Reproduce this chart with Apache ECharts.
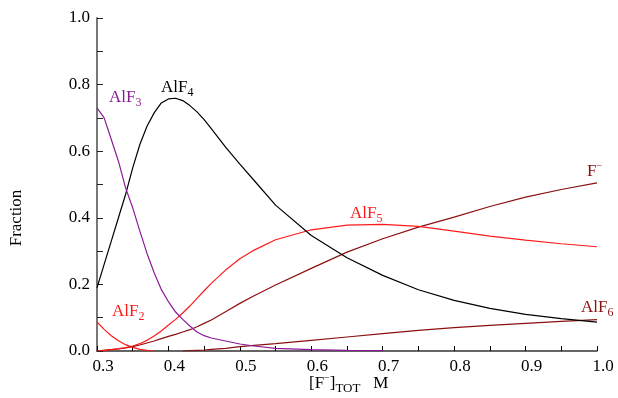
<!DOCTYPE html>
<html>
<head>
<meta charset="utf-8">
<script src="https://cdn.jsdelivr.net/npm/echarts@6/dist/echarts.min.js"></script>
<style>
html,body{margin:0;padding:0;background:#fff;}
#chart{width:618px;height:398px;}
</style>
</head>
<body>
<div id="chart"></div>
<script>
// Total fluoride concentration (M)
var xs = [0.30,0.31,0.32,0.33,0.34,0.35,0.36,0.37,0.38,0.39,0.40,0.41,0.42,0.43,0.44,0.45,0.46,0.48,0.50,0.52,0.55,0.60,0.65,0.70,0.75,0.80,0.85,0.90,0.95,1.00];
var alf2 = [0.087,0.065,0.046,0.031,0.019,0.011,0.005,0.002,0.0,null,null,null,null,null,null,null,null,null,null,null,null,null,null,null,null,null,null,null,null,null];
var alf3 = [0.73,0.70,0.635,0.57,0.49,0.43,0.36,0.293,0.235,0.185,0.148,0.117,0.095,0.075,0.057,0.046,0.039,0.030,0.021,0.015,0.008,0.004,0.002,0.001,null,null,null,null,null,null];
var alf4 = [0.19,0.26,0.33,0.40,0.47,0.55,0.62,0.675,0.715,0.745,0.757,0.759,0.752,0.737,0.718,0.695,0.668,0.612,0.561,0.512,0.438,0.347,0.28,0.227,0.184,0.152,0.128,0.11,0.097,0.087];
var alf5 = [0.0,0.002,0.004,0.007,0.010,0.015,0.022,0.032,0.045,0.060,0.078,0.095,0.114,0.135,0.158,0.181,0.203,0.243,0.277,0.303,0.334,0.364,0.378,0.38,0.374,0.36,0.345,0.333,0.322,0.313];
var fMinus = [0.0,0.002,0.004,0.006,0.009,0.013,0.018,0.024,0.030,0.037,0.044,0.050,0.057,0.064,0.073,0.083,0.093,0.118,0.143,0.166,0.198,0.248,0.297,0.337,0.372,0.402,0.434,0.462,0.485,0.505];
var alf6 = [null,null,null,null,null,null,null,null,null,null,null,null,0.0,0.001,0.002,0.003,0.005,0.008,0.013,0.017,0.022,0.032,0.042,0.052,0.062,0.070,0.077,0.083,0.089,0.094];

var xTicks = [0.3,0.4,0.5,0.6,0.7,0.8,0.9,1.0];
var yTicks = [0.0,0.2,0.4,0.6,0.8,1.0];

function pairs(ys){ return xs.map(function(x,i){ return [x, ys[i]]; }); }

var FONT = '"Liberation Serif", "DejaVu Serif", serif';
var colPurple = '#8b1a96', colRed = '#ff1a1a', colDark = '#8b1010', colBlack = '#000';

function lineSeries(name, ys, color){
  return {name:name, type:'line', data:pairs(ys), showSymbol:false, symbol:'none', smooth:false,
    connectNulls:false, lineStyle:{color:color, width:1.2}, itemStyle:{color:color}, z:3};
}

function txt(x, y, main, sub, color){
  return {type:'text', x:x, y:y, z:10, style:{
    text:'{m|' + main + '}{s|' + sub + '}', textVerticalAlign:'middle', verticalAlign:'middle',
    rich:{ m:{fontFamily:FONT, fontSize:17, lineHeight:22, fill:color, color:color},
           s:{fontFamily:FONT, fontSize:12, lineHeight:11, verticalAlign:'bottom', fill:color, color:color} } }};
}

var chart = echarts.init(document.getElementById('chart'), null, {renderer:'canvas'});
chart.setOption({
  animation:false,
  backgroundColor:'#fff',
  grid:{left:97, right:21, top:18, bottom:47, containLabel:false},
  xAxis:{type:'value', min:0.3, max:1.0, interval:0.05,
    axisLine:{show:true, onZero:false, lineStyle:{color:'#333', width:1.5}},
    axisTick:{show:true, inside:true, length:5, lineStyle:{color:'#000', width:1}},
    splitLine:{show:false},
    axisLabel:{fontFamily:FONT, fontSize:17, color:'#000', margin:7, padding:[0,0,0,12],
      formatter:function(v){ var r = Math.round(v*100)/100; for (var i=0;i<xTicks.length;i++){ if (Math.abs(xTicks[i]-r)<1e-6) return xTicks[i].toFixed(1);} return ''; }}
  },
  yAxis:{type:'value', min:0, max:1.0, interval:0.1,
    axisLine:{show:true, onZero:false, lineStyle:{color:'#777', width:2}},
    axisTick:{show:true, inside:true, length:6, lineStyle:{color:'#222', width:1}},
    splitLine:{show:false},
    axisLabel:{fontFamily:FONT, fontSize:17, color:'#000', margin:7,
      formatter:function(v){ var r = Math.round(v*100)/100; for (var i=0;i<yTicks.length;i++){ if (Math.abs(yTicks[i]-r)<1e-6) return yTicks[i].toFixed(1);} return ''; }}
  },
  series:[
    lineSeries('AlF2', alf2, colRed),
    lineSeries('AlF6', alf6, colDark),
    lineSeries('F-', fMinus, colDark),
    lineSeries('AlF5', alf5, colRed),
    lineSeries('AlF4', alf4, colBlack),
    lineSeries('AlF3', alf3, colPurple)
  ],
  graphic:[
    txt(109, 98, 'AlF', '3', colPurple),
    txt(161, 88, 'AlF', '4', colBlack),
    txt(350, 214, 'AlF', '5', colRed),
    txt(112, 312, 'AlF', '2', colRed),
    txt(581, 308, 'AlF', '6', colDark),
    {type:'text', x:587, y:172, z:10, style:{
      text:'{m|F}{p|−}', textVerticalAlign:'middle', verticalAlign:'middle',
      rich:{ m:{fontFamily:FONT, fontSize:17, lineHeight:22, fill:colDark, color:colDark},
             p:{fontFamily:FONT, fontSize:10, lineHeight:10, verticalAlign:'top', fill:colDark, color:colDark} } }},
    {type:'text', x:17, y:218, rotation:Math.PI/2, z:10, style:{
      text:'Fraction', fontFamily:FONT, fontSize:17, fill:'#000', align:'center', verticalAlign:'middle', textAlign:'center', textVerticalAlign:'middle'}},
    {type:'text', x:309, y:384, z:10, style:{
      text:'{m|[F}{p|−}{m|]}{s|TOT}{m|   M}', textVerticalAlign:'middle', verticalAlign:'middle',
      rich:{ m:{fontFamily:FONT, fontSize:17, lineHeight:22, fill:'#000', color:'#000'},
             p:{fontFamily:FONT, fontSize:10, lineHeight:10, verticalAlign:'top', fill:'#000', color:'#000'},
             s:{fontFamily:FONT, fontSize:13, lineHeight:12, verticalAlign:'bottom', fill:'#000', color:'#000'} } }}
  ]
});
</script>
</body>
</html>
